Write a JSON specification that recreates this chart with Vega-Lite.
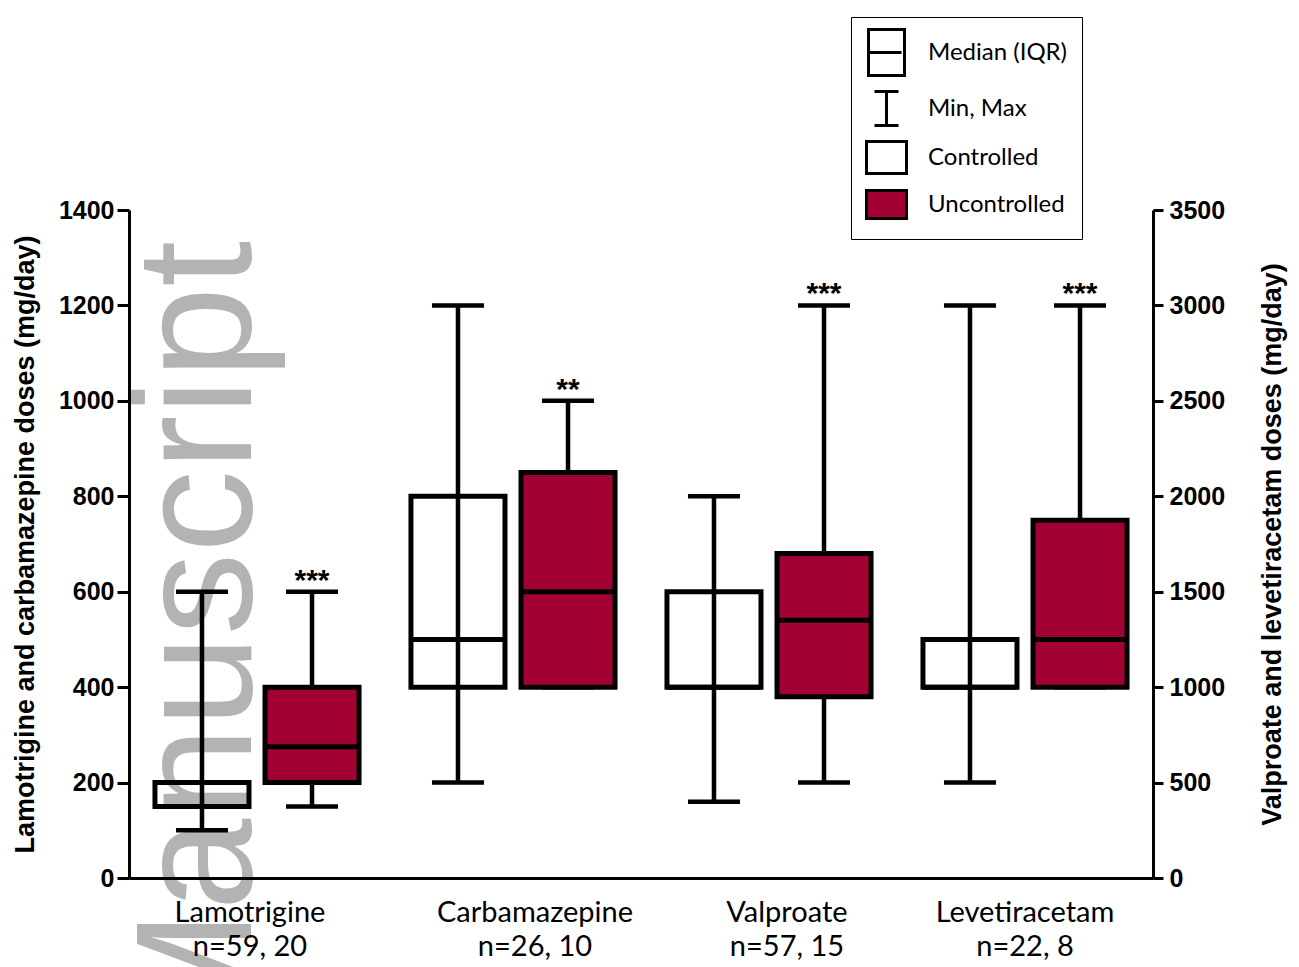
{
  "$schema": "https://vega.github.io/schema/vega-lite/v6.json",
  "width": 1024,
  "height": 668,
  "autosize": {"type": "none"},
  "padding": {"left": 129, "top": 210, "right": 146, "bottom": 89},
  "background": "white",
  "config": {
    "view": {"stroke": null},
    "axis": {"grid": false, "domainColor": "black", "tickColor": "black", "labelColor": "black", "titleColor": "black", "domainWidth": 3, "tickWidth": 3, "zindex": 1, "labelOverlap": false, "labelLimit": 400},
    "tick": {"opacity": 1},
    "legend": {"title": null, "orient": "none", "legendX": 722, "legendY": -193, "padding": 14, "rowPadding": 3, "labelFont": "Lato", "labelFontSize": 24, "labelColor": "black", "labelOffset": 20, "strokeColor": "black", "fillColor": "white", "symbolFillColor": "white", "symbolStrokeColor": "black", "symbolStrokeWidth": 3, "symbolOpacity": 1, "symbolSize": 1600}
  },
  "datasets": {
    "left": [
      {"drug": "Lamotrigine", "status": "Controlled", "min": 100, "q1": 150, "median": 200, "q3": 200, "max": 600, "sig": ""},
      {"drug": "Lamotrigine", "status": "Uncontrolled", "min": 150, "q1": 200, "median": 275, "q3": 400, "max": 600, "sig": "***"},
      {"drug": "Carbamazepine", "status": "Controlled", "min": 200, "q1": 400, "median": 500, "q3": 800, "max": 1200, "sig": ""},
      {"drug": "Carbamazepine", "status": "Uncontrolled", "min": 400, "q1": 400, "median": 600, "q3": 850, "max": 1000, "sig": "**"}
    ],
    "right": [
      {"drug": "Valproate", "status": "Controlled", "min": 400, "q1": 1000, "median": 1000, "q3": 1500, "max": 2000, "sig": ""},
      {"drug": "Valproate", "status": "Uncontrolled", "min": 500, "q1": 950, "median": 1350, "q3": 1700, "max": 3000, "sig": "***"},
      {"drug": "Levetiracetam", "status": "Controlled", "min": 500, "q1": 1000, "median": 1000, "q3": 1250, "max": 3000, "sig": ""},
      {"drug": "Levetiracetam", "status": "Uncontrolled", "min": 1000, "q1": 1000, "median": 1250, "q3": 1875, "max": 3000, "sig": "***"}
    ],
    "watermark": [{"text": "Manuscript"}]
  },
  "layer": [
    {
      "data": {"name": "watermark"},
      "mark": {"type": "text", "angle": 270, "align": "right", "baseline": "alphabetic", "font": "Liberation Sans", "fontSize": 165, "color": "#b3b3b3", "dy": -6},
      "encoding": {
        "x": {
          "datum": "Lamotrigine", "type": "nominal",
          "scale": {"domain": ["Lamotrigine", "Carbamazepine", "Valproate", "Levetiracetam"], "paddingInner": 0, "paddingOuter": 0},
          "axis": {
            "title": null, "labelAngle": 0, "ticks": false, "tickSize": 0, "labelPadding": 20, "zindex": 2,
            "labelFont": "Lato", "labelFontSize": 29, "labelLineHeight": 34, "labelBaseline": "top",
            "labelOffset": {"condition": [{"test": "datum.value === 'Carbamazepine'", "value": 22}, {"test": "datum.value === 'Valproate'", "value": 18}, {"test": "datum.value === 'Lamotrigine'", "value": -7}], "value": 0},
            "labelExpr": "datum.value === 'Lamotrigine' ? ['Lamotrigine', 'n=59, 20'] : datum.value === 'Carbamazepine' ? ['Carbamazepine', 'n=26, 10'] : datum.value === 'Valproate' ? ['Valproate', 'n=57, 15'] : ['Levetiracetam', 'n=22, 8']"
          }
        },
        "y": {"datum": 1335, "type": "quantitative", "scale": {"domain": [0, 1400], "nice": false, "zero": true}, "axis": {"orient": "left", "labels": false, "ticks": false, "domain": false, "title": null}},
        "text": {"field": "text", "type": "nominal"}
      }
    },
    {
      "data": {"name": "left"},
      "encoding": {
        "x": {
          "field": "drug", "type": "nominal", "sort": null,
          "scale": {"domain": ["Lamotrigine", "Carbamazepine", "Valproate", "Levetiracetam"], "paddingInner": 0, "paddingOuter": 0},
          "axis": {
            "title": null, "labelAngle": 0, "ticks": false, "tickSize": 0, "labelPadding": 20, "zindex": 2,
            "labelFont": "Lato", "labelFontSize": 29, "labelLineHeight": 34, "labelBaseline": "top",
            "labelOffset": {"condition": [{"test": "datum.value === 'Carbamazepine'", "value": 22}, {"test": "datum.value === 'Valproate'", "value": 18}, {"test": "datum.value === 'Lamotrigine'", "value": -7}], "value": 0},
            "labelExpr": "datum.value === 'Lamotrigine' ? ['Lamotrigine', 'n=59, 20'] : datum.value === 'Carbamazepine' ? ['Carbamazepine', 'n=26, 10'] : datum.value === 'Valproate' ? ['Valproate', 'n=57, 15'] : ['Levetiracetam', 'n=22, 8']"
          }
        },
        "xOffset": {"field": "status", "type": "nominal", "scale": {"domain": ["Controlled", "Uncontrolled"], "paddingInner": 0.1455, "paddingOuter": 0.236}}
      },
      "layer": [
        {
          "mark": {"type": "rule", "strokeWidth": 4.5, "color": "black"},
          "encoding": {
            "y": {
              "field": "min", "type": "quantitative", "scale": {"domain": [0, 1400], "nice": false, "zero": true},
              "axis": {
                "orient": "left", "title": "Lamotrigine and carbamazepine doses (mg/day)", "values": [0, 200, 400, 600, 800, 1000, 1200, 1400], "format": "d",
                "labelFont": "Liberation Sans", "labelFontWeight": "bold", "labelFontSize": 25, "labelPadding": 3, "tickSize": 12,
                "titleFont": "Liberation Sans", "titleFontWeight": "bold", "titleFontSize": 27, "titlePadding": 19
              }
            },
            "y2": {"field": "max"}
          }
        },
        {
          "mark": {"type": "bar", "stroke": "black", "strokeWidth": 5},
          "encoding": {
            "y": {"field": "q1", "type": "quantitative"},
            "y2": {"field": "q3"},
            "fill": {"field": "status", "type": "nominal", "scale": {"domain": ["Median (IQR)", "Min, Max", "Controlled", "Uncontrolled"], "range": ["transparent", "transparent", "transparent", "#a30034"]}}
          }
        },
        {"mark": {"type": "tick", "color": "black", "opacity": 1, "thickness": 5, "size": 94}, "encoding": {"y": {"field": "median", "type": "quantitative"}}},
        {"mark": {"type": "tick", "color": "black", "opacity": 1, "thickness": 4.5, "size": 52}, "encoding": {"y": {"field": "min", "type": "quantitative"}}},
        {"mark": {"type": "tick", "color": "black", "opacity": 1, "thickness": 4.5, "size": 52}, "encoding": {"y": {"field": "max", "type": "quantitative"}}},
        {
          "mark": {"type": "text", "font": "Liberation Sans", "fontWeight": "bold", "fontSize": 30, "baseline": "alphabetic", "dy": -2, "color": "black"},
          "encoding": {"y": {"field": "max", "type": "quantitative"}, "text": {"field": "sig", "type": "nominal"}}
        },
        {
          "mark": {"type": "point", "opacity": 0, "filled": true, "stroke": "black", "strokeWidth": 3, "size": 1600},
          "encoding": {
            "y": {"field": "median", "type": "quantitative"},
            "fill": {"field": "status", "type": "nominal", "scale": {"domain": ["Median (IQR)", "Min, Max", "Controlled", "Uncontrolled"], "range": ["transparent", "transparent", "transparent", "#a30034"]}},
            "shape": {
              "field": "status", "type": "nominal",
              "scale": {"domain": ["Median (IQR)", "Min, Max", "Controlled", "Uncontrolled"], "range": ["M-0.9,-1.15H0.9V1.15H-0.9ZM-0.9,0H0.75", "M-0.6,-0.85H0.6M0,-0.85V0.85M-0.6,0.85H0.6", "M-1,-0.8H1V0.8H-1Z", "M-1,-0.7H1V0.7H-1Z"]}
            }
          }
        }
      ]
    },
    {
      "data": {"name": "right"},
      "encoding": {
        "x": {
          "field": "drug", "type": "nominal", "sort": null,
          "scale": {"domain": ["Lamotrigine", "Carbamazepine", "Valproate", "Levetiracetam"], "paddingInner": 0, "paddingOuter": 0},
          "axis": {
            "title": null, "labelAngle": 0, "ticks": false, "tickSize": 0, "labelPadding": 20, "zindex": 2,
            "labelFont": "Lato", "labelFontSize": 29, "labelLineHeight": 34, "labelBaseline": "top",
            "labelOffset": {"condition": [{"test": "datum.value === 'Carbamazepine'", "value": 22}, {"test": "datum.value === 'Valproate'", "value": 18}, {"test": "datum.value === 'Lamotrigine'", "value": -7}], "value": 0},
            "labelExpr": "datum.value === 'Lamotrigine' ? ['Lamotrigine', 'n=59, 20'] : datum.value === 'Carbamazepine' ? ['Carbamazepine', 'n=26, 10'] : datum.value === 'Valproate' ? ['Valproate', 'n=57, 15'] : ['Levetiracetam', 'n=22, 8']"
          }
        },
        "xOffset": {"field": "status", "type": "nominal", "scale": {"domain": ["Controlled", "Uncontrolled"], "paddingInner": 0.1455, "paddingOuter": 0.236}}
      },
      "layer": [
        {
          "mark": {"type": "rule", "strokeWidth": 4.5, "color": "black"},
          "encoding": {
            "y": {
              "field": "min", "type": "quantitative", "scale": {"domain": [0, 3500], "nice": false, "zero": true},
              "axis": {
                "orient": "right", "title": "Valproate and levetiracetam doses (mg/day)", "values": [0, 500, 1000, 1500, 2000, 2500, 3000, 3500], "format": "d",
                "labelFont": "Liberation Sans", "labelFontWeight": "bold", "labelFontSize": 25, "labelPadding": 6, "tickSize": 10,
                "titleFont": "Liberation Sans", "titleFontWeight": "bold", "titleFontSize": 27, "titlePadding": 35, "titleAngle": 270, "titleBaseline": "top"
              }
            },
            "y2": {"field": "max"}
          }
        },
        {
          "mark": {"type": "bar", "stroke": "black", "strokeWidth": 5},
          "encoding": {
            "y": {"field": "q1", "type": "quantitative"},
            "y2": {"field": "q3"},
            "fill": {"field": "status", "type": "nominal", "scale": {"domain": ["Median (IQR)", "Min, Max", "Controlled", "Uncontrolled"], "range": ["transparent", "transparent", "transparent", "#a30034"]}}
          }
        },
        {"mark": {"type": "tick", "color": "black", "opacity": 1, "thickness": 5, "size": 94}, "encoding": {"y": {"field": "median", "type": "quantitative"}}},
        {"mark": {"type": "tick", "color": "black", "opacity": 1, "thickness": 4.5, "size": 52}, "encoding": {"y": {"field": "min", "type": "quantitative"}}},
        {"mark": {"type": "tick", "color": "black", "opacity": 1, "thickness": 4.5, "size": 52}, "encoding": {"y": {"field": "max", "type": "quantitative"}}},
        {
          "mark": {"type": "text", "font": "Liberation Sans", "fontWeight": "bold", "fontSize": 30, "baseline": "alphabetic", "dy": -2, "color": "black"},
          "encoding": {"y": {"field": "max", "type": "quantitative"}, "text": {"field": "sig", "type": "nominal"}}
        }
      ]
    }
  ],
  "resolve": {"scale": {"y": "independent"}}
}
